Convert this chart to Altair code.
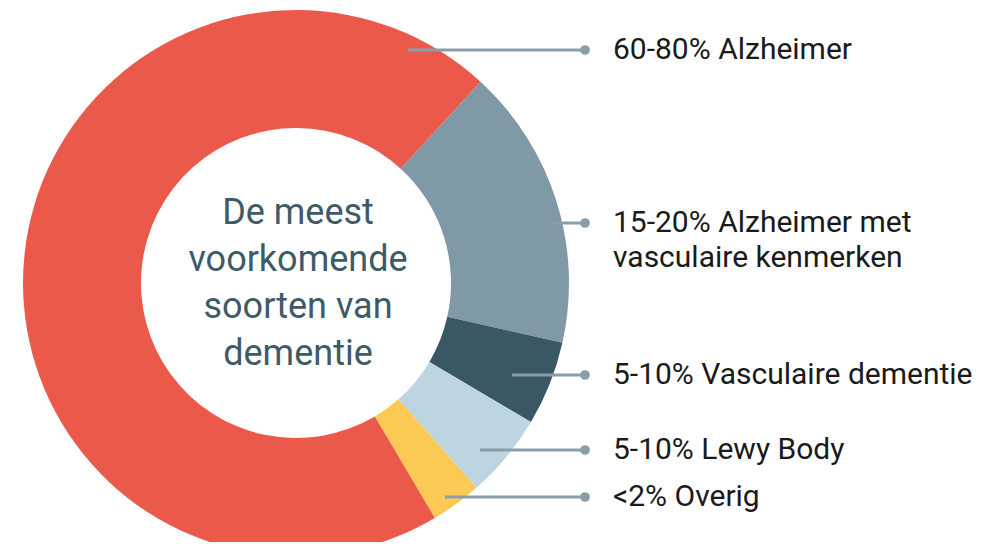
import altair as alt
import pandas as pd
import math

# ---- data ----
categories = ["Alzheimer met vasculaire kenmerken", "Vasculaire dementie", "Lewy Body", "Overig", "Alzheimer"]
shares = [16.7, 5.0, 5.0, 3.0, 70.3]
colors = ["#8099A6", "#3A5764", "#BDD5E1", "#FDC955", "#EA5949"]
label_texts = ["60-80% Alzheimer", "15-20% Alzheimer met\nvasculaire kenmerken",
               "5-10% Vasculaire dementie", "5-10% Lewy Body", "<2% Overig"]
center_text = "De meest\nvoorkomende\nsoorten van\ndementie"

# ---- layout (pixels, plot coordinates) ----
W, H = 974, 534
CX, CY = 288, 275
R_OUT, R_IN = 273, 155
start = math.radians(42.5)
label_y = [42, 215, 367, 442, 489]
line_x0 = [400, 545, 504, 472, 437]
dot_x = 577
text_x = 605
text_y = [42, 215, 367, 442, 489]

slices = pd.DataFrame({"cat": categories, "share": shares, "order": list(range(len(categories)))})

donut = alt.Chart(slices).mark_arc(outerRadius=R_OUT, innerRadius=R_IN, stroke=None).encode(
    theta=alt.Theta("share:Q", stack=True, scale=alt.Scale(range=[start, start + 2 * math.pi])),
    color=alt.Color("cat:N", scale=alt.Scale(domain=categories, range=colors), legend=None),
    order=alt.Order("order:Q"),
    x=alt.value(CX), y=alt.value(CY),
)

lab = pd.DataFrame({"label": label_texts, "y": label_y, "x0": line_x0, "ty": text_y})
xs = alt.Scale(domain=[0, W], range=[0, W])
ys = alt.Scale(domain=[0, H], range=[0, H])

lines = alt.Chart(lab).mark_rule(color="#8A9EAA", strokeWidth=3).encode(
    x=alt.X("x0:Q", scale=xs, axis=None),
    x2=alt.datum(dot_x),
    y=alt.Y("y:Q", scale=ys, axis=None),
)
dots = alt.Chart(lab).mark_point(filled=True, size=95, color="#8A9EAA", opacity=1, shape="circle").encode(
    x=alt.datum(dot_x, scale=xs), y=alt.Y("y:Q", scale=ys, axis=None),
)
texts = alt.Chart(lab).mark_text(align="left", baseline="middle", font="Roboto", fontSize=30,
                                  color="#1A1A1A", lineBreak="\n", lineHeight=35).encode(
    x=alt.datum(text_x, scale=xs), y=alt.Y("ty:Q", scale=ys, axis=None), text="label:N",
)
center = alt.Chart(pd.DataFrame({"t": [center_text]})).mark_text(
    align="center", baseline="middle", font="Roboto", fontSize=36, color="#3E5A66",
    lineBreak="\n", lineHeight=47).encode(
    x=alt.value(CX + 2), y=alt.value(205), text="t:N")

chart = alt.layer(donut, lines, dots, texts, center).properties(
    width=W, height=H, autosize=alt.AutoSizeParams(type="none"), padding=0
).configure_view(stroke=None)

chart.save("out.html", embed_options={"renderer": "svg", "actions": False})
